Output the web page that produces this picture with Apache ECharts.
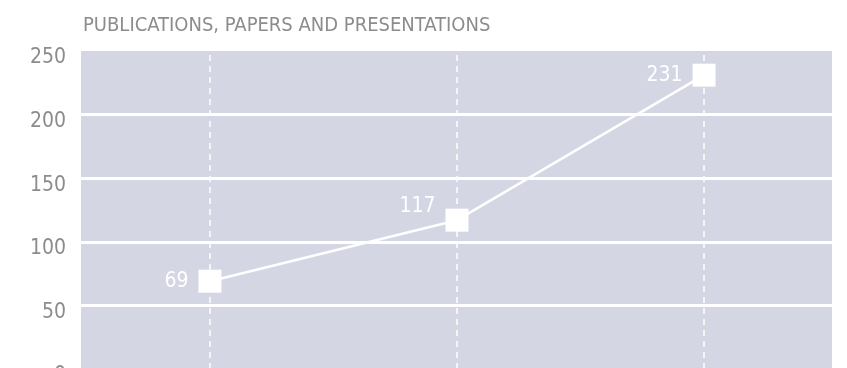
<!DOCTYPE html>
<html>
<head>
<meta charset="utf-8">
<script src="https://cdn.jsdelivr.net/npm/echarts@6/dist/echarts.min.js"></script>
<style>html,body{margin:0;padding:0;background:#fff}#c{width:847px;height:368px}</style>
</head>
<body>
<div id="c"></div>
<script>
var titleText = 'PUBLICATIONS, PAPERS AND PRESENTATIONS';
var categories = [1, 2, 3];
var values = [69, 117, 231];
var yTicks = [0, 50, 100, 150, 200, 250];

var FONT = "'DejaVu Sans Condensed', 'Roboto', sans-serif";
var GRAY = '#8c8c8c';
var BG = '#d5d6e3';

var data = categories.map(function (c, i) {
  var item = { value: [c, values[i]] };
  if (i === 1) item.label = { offset: [0, -14] };
  return item;
});

var chart = echarts.init(document.getElementById('c'), null, { renderer: 'canvas' });
chart.setOption({
  animation: false,
  title: {
    text: titleText,
    left: 78,
    top: 11,
    textStyle: { fontFamily: FONT, fontSize: 20, fontWeight: 'normal', color: GRAY }
  },
  grid: {
    left: 81, right: 15, top: 51, height: 318,
    outerBoundsMode: 'none',
    containLabel: false,
    show: true, backgroundColor: BG, borderWidth: 0
  },
  xAxis: {
    type: 'value',
    min: 0.478, max: 3.518,
    axisLine: { show: false }, axisTick: { show: false },
    axisLabel: { show: false }, splitLine: { show: false }
  },
  yAxis: {
    type: 'value',
    min: yTicks[0], max: yTicks[yTicks.length - 1], interval: 50,
    axisLine: { show: false }, axisTick: { show: false },
    axisLabel: {
      margin: 15, color: GRAY, fontFamily: FONT, fontSize: 21,
      formatter: '{a|{value}}',
      rich: { a: { color: GRAY, fontFamily: FONT, fontSize: 21, padding: [14, 0, 0, 0] } }
    },
    splitLine: {
      show: true,
      lineStyle: { color: ['#ffffff', '#ffffff', '#ffffff', '#ffffff', '#ffffff', 'rgba(0,0,0,0)'], width: 3 }
    }
  },
  series: [{
    type: 'line',
    data: data,
    symbol: 'rect',
    symbolSize: 23,
    itemStyle: { color: '#ffffff' },
    lineStyle: { color: '#ffffff', width: 2.5 },
    label: {
      show: true, position: 'left', distance: 10,
      color: '#ffffff', fontFamily: FONT, fontSize: 21
    },
    markLine: {
      silent: true,
      symbol: 'none',
      label: { show: false },
      lineStyle: { color: '#ffffff', type: [6, 5], width: 1.5 },
      data: categories.map(function (c) { return { xAxis: c }; })
    },
    z: 5
  }]
});
</script>
</body>
</html>
